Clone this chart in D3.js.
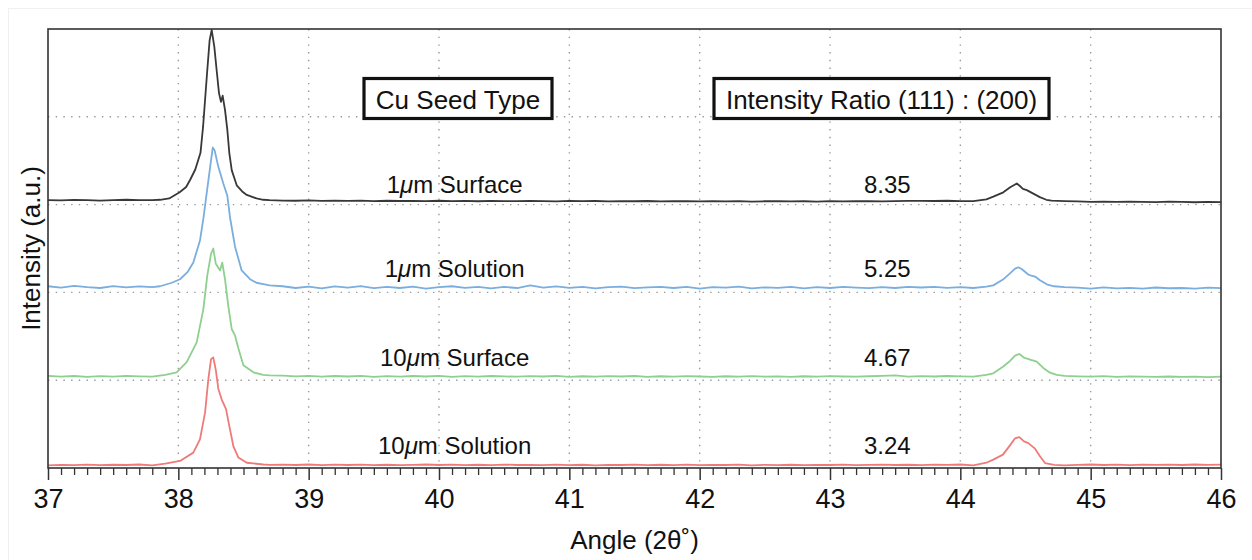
<!DOCTYPE html>
<html>
<head>
<meta charset="utf-8">
<script src="https://cdn.jsdelivr.net/npm/d3@7"></script>
<style>
  body { margin: 0; background: #fff; }
  text { font-family: "Liberation Sans", Arial, Helvetica, sans-serif; fill: #111; }
</style>
</head>
<body>
<div id="chart"></div>
<script>
// DATA
const seriesNames = ["1μm Surface", "1μm Solution", "10μm Surface", "10μm Solution"];
const ratios = ["8.35", "5.25", "4.67", "3.24"];
// vertical stacking of the patterns (axis units)
const offsets = [3.04, 2.05, 1.04, 0.03];
const xTicks = [37, 38, 39, 40, 41, 42, 43, 44, 45, 46];

// background samples every 0.1 deg from 37.0 to 46.0, null where a peak table takes over
const G10 = Array(10).fill(null), G8 = Array(8).fill(null);
const blackBg = [0.012, 0.008, 0.014, 0.01, 0.006, 0.012, 0.015, 0.01, ...G10,
  0.006, 0.004, 0.008, 0.003, 0.006, 0.002, 0.005, 0.0, 0.004, 0.001,
  0.003, -0.001, 0.004, 0.0, 0.002, -0.002, 0.003, 0.0, -0.001, 0.002,
  0.0, -0.003, 0.002, -0.001, 0.001, -0.004, 0.0, -0.002, 0.001, -0.003,
  0.0, -0.002, -0.004, 0.0, -0.003, -0.001, -0.005, -0.002, 0.0, -0.004,
  -0.002, -0.005, -0.001, -0.004, -0.002, 0.0, -0.003, -0.001, 0.002, 0.003,
  0.001, 0.004, 0.0, ...G8,
  -0.004, -0.008, -0.005, -0.01, -0.006, -0.009, -0.012, -0.007, -0.01, -0.013, -0.008, -0.011];
const blueBg = [0.02, 0.005, 0.025, 0.01, 0.0, 0.022, 0.008, 0.018, ...G10,
  0.02, 0.0, 0.015, -0.005, 0.018, 0.004, 0.022, -0.002, 0.012, 0.0,
  0.016, -0.006, 0.01, 0.02, 0.002, 0.014, -0.004, 0.012, 0.0, 0.03,
  0.005, 0.018, 0.002, 0.012, -0.005, 0.01, 0.016, -0.002, 0.008, 0.014,
  0.0, 0.012, -0.006, 0.01, 0.004, 0.016, -0.004, 0.008, 0.002, 0.014,
  -0.003, 0.01, 0.0, 0.012, 0.004, -0.002, 0.01, 0.0, 0.014, 0.006,
  0.012, 0.002, 0.01, ...G8,
  0.004, -0.006, 0.008, -0.004, 0.002, -0.008, 0.006, -0.003, 0.0, -0.007, 0.004, -0.002];
const greenBg = [0.01, 0.0, 0.008, -0.002, 0.006, 0.0, 0.01, 0.004, ...G10,
  0.012, 0.004, 0.01, 0.0, 0.008, 0.002, 0.01, -0.002, 0.006, 0.0,
  0.008, 0.002, 0.01, -0.002, 0.006, 0.0, 0.008, 0.003, 0.0, 0.007,
  0.002, 0.009, -0.001, 0.005, 0.0, 0.007, 0.002, 0.008, -0.002, 0.005,
  0.0, 0.006, 0.002, -0.002, 0.005, 0.0, 0.007, 0.001, 0.004, -0.002,
  0.005, 0.0, 0.006, 0.002, 0.0, 0.005, 0.01, 0.015, 0.0, 0.006,
  0.002, 0.008, 0.003, ...G8,
  0.004, 0.0, 0.006, -0.002, 0.003, 0.0, -0.003, 0.002, -0.002, 0.0, -0.004, 0.0];
const redBg = [0.0, 0.006, 0.002, 0.008, 0.003, 0.007, 0.004, 0.01, ...G10,
  0.008, 0.004, 0.01, 0.002, 0.008, 0.004, 0.009, 0.003, 0.007, 0.002,
  0.006, 0.01, 0.004, 0.008, 0.002, 0.007, 0.003, 0.009, 0.004, 0.006,
  0.002, 0.008, 0.003, 0.007, 0.001, 0.006, 0.004, 0.009, 0.002, 0.007,
  0.003, 0.008, 0.002, 0.006, 0.004, 0.008, 0.001, 0.006, 0.003, 0.007,
  0.002, 0.006, 0.004, 0.008, 0.002, 0.005, 0.009, 0.004, 0.007, 0.003,
  0.008, 0.005, 0.01, ...G8,
  0.006, 0.01, 0.004, 0.008, 0.003, 0.009, 0.005, 0.008, 0.004, 0.01, 0.006, 0.008];

// (111) peak near 38.3 deg: [angle, intensity above baseline]
const blackPeak38 = [[37.8, 0.01], [37.86, 0.015], [37.93, 0.03], [38.01, 0.1], [38.06, 0.16], [38.09, 0.24],
  [38.13, 0.36], [38.17, 0.55], [38.19, 0.85], [38.22, 1.45], [38.24, 1.83], [38.256, 1.95], [38.276, 1.76],
  [38.294, 1.49], [38.312, 1.23], [38.327, 1.13], [38.34, 1.2], [38.358, 1.04], [38.376, 0.81], [38.391, 0.55],
  [38.41, 0.35], [38.448, 0.18], [38.49, 0.11], [38.525, 0.07], [38.6, 0.03], [38.652, 0.015], [38.7, 0.01]];
const bluePeak38 = [[37.8, 0.01], [37.86, 0.02], [37.95, 0.06], [38.013, 0.1], [38.07, 0.18], [38.115, 0.29],
  [38.166, 0.54], [38.192, 0.79], [38.23, 1.22], [38.264, 1.6], [38.278, 1.57], [38.307, 1.38], [38.345, 1.19],
  [38.376, 1.05], [38.397, 0.8], [38.435, 0.47], [38.486, 0.2], [38.55, 0.1], [38.6, 0.06], [38.652, 0.045], [38.7, 0.03]];
const greenPeak38 = [[37.8, 0.0], [37.9, 0.02], [37.987, 0.05], [38.064, 0.165], [38.141, 0.39], [38.192, 0.77],
  [38.222, 1.15], [38.251, 1.4], [38.268, 1.46], [38.287, 1.29], [38.32, 1.21], [38.337, 1.3], [38.358, 1.11],
  [38.383, 0.81], [38.41, 0.54], [38.435, 0.47], [38.461, 0.32], [38.499, 0.13], [38.576, 0.05], [38.65, 0.02], [38.7, 0.015]];
const redPeak38 = [[37.8, 0.0], [37.9, 0.02], [38.013, 0.05], [38.115, 0.145], [38.166, 0.296], [38.205, 0.6],
  [38.23, 0.98], [38.251, 1.21], [38.268, 1.23], [38.287, 1.09], [38.307, 0.87], [38.333, 0.75], [38.366, 0.64],
  [38.391, 0.45], [38.422, 0.22], [38.46, 0.09], [38.525, 0.03], [38.652, 0.01], [38.7, 0.005]];

// (200) peak near 44.45 deg
const blackPeak44 = [[44.1, 0.0], [44.2, 0.02], [44.253, 0.05], [44.33, 0.1], [44.38, 0.155], [44.41, 0.18],
  [44.433, 0.2], [44.455, 0.175], [44.48, 0.14], [44.51, 0.125], [44.56, 0.085], [44.61, 0.045], [44.66, 0.015],
  [44.7, 0.005], [44.8, 0.0]];
const bluePeak44 = [[44.1, 0.0], [44.2, 0.015], [44.253, 0.03], [44.327, 0.096], [44.381, 0.167], [44.42, 0.22],
  [44.445, 0.236], [44.473, 0.213], [44.519, 0.156], [44.545, 0.14], [44.573, 0.13], [44.611, 0.088], [44.663, 0.042],
  [44.72, 0.02], [44.8, 0.01]];
const greenPeak44 = [[44.1, 0.0], [44.2, 0.02], [44.253, 0.038], [44.327, 0.114], [44.381, 0.179], [44.42, 0.239],
  [44.453, 0.259], [44.489, 0.216], [44.535, 0.194], [44.586, 0.171], [44.634, 0.103], [44.688, 0.046], [44.74, 0.02],
  [44.8, 0.01]];
const redPeak44 = [[44.1, 0.0], [44.2, 0.03], [44.253, 0.065], [44.327, 0.122], [44.381, 0.228], [44.42, 0.308],
  [44.453, 0.322], [44.489, 0.273], [44.522, 0.254], [44.573, 0.19], [44.611, 0.103], [44.65, 0.026], [44.72, 0.006],
  [44.8, 0.0]];

const backgrounds = [blackBg, blueBg, greenBg, redBg];
const peaks38 = [blackPeak38, bluePeak38, greenPeak38, redPeak38];
const peaks44 = [blackPeak44, bluePeak44, greenPeak44, redPeak44];
const colors = ["#383838", "#7aaedf", "#8ed08e", "#ef7a7a"];

// sampling grid of the background arrays
const angleGrid = d3.range(0, 91).map(i => 37 + i / 10);

function buildPoints(bg, p38, p44) {
	const pts = [];
	bg.forEach((v, i) => { if (v !== null) pts.push([angleGrid[i], v]); });
	return pts.concat(p38, p44).sort((a, b) => a[0] - b[0]);
}

// CHART
const width = 1252, height = 560;
const margin = {left: 48, right: 31, top: 29, bottom: 92};

const svg = d3.select("#chart")
  .append("svg")
  .attr("width", width)
  .attr("height", height);

// faint outer frame of the figure
svg.append("rect")
  .attr("x", 8.5).attr("y", 8.5)
  .attr("width", width).attr("height", height)
  .attr("fill", "none").attr("stroke", "#f0f0f0");

const xScale = d3.scaleLinear()
  .domain([37, 46])
  .range([margin.left, width - margin.right]);

const yScale = d3.scaleLinear()
  .domain([0, 5])
  .range([height - margin.bottom, margin.top]);

const x0 = xScale.range()[0], x1 = xScale.range()[1];
const y0 = yScale.range()[0], y1 = yScale.range()[1];

// dotted grid
const grid = svg.append("g")
  .attr("stroke", "#999")
  .attr("stroke-width", 1.4)
  .attr("stroke-dasharray", "1.4,6.3");

grid.selectAll(".vgrid")
  .data(xTicks.slice(1, -1))
  .enter().append("line")
  .attr("x1", d => xScale(d)).attr("x2", d => xScale(d))
  .attr("y1", y1).attr("y2", y0);

grid.selectAll(".hgrid")
  .data([1, 2, 3, 4])
  .enter().append("line")
  .attr("x1", x0).attr("x2", x1)
  .attr("y1", d => yScale(d)).attr("y2", d => yScale(d));

// patterns
const line = d3.line()
  .x(d => xScale(d[0]))
  .y(d => d[1]);

seriesNames.forEach((name, i) => {
	const pts = buildPoints(backgrounds[i], peaks38[i], peaks44[i])
	  .map(p => [p[0], yScale(p[1] + offsets[i])]);

	svg.append("path")
	  .attr("d", line(pts))
	  .attr("fill", "none")
	  .attr("stroke", colors[i])
	  .attr("stroke-width", 1.8)
	  .attr("stroke-linejoin", "round");
});

// series labels
const labels = svg.append("g").style("font-size", "24px");

seriesNames.forEach((name, i) => {
	const ly = yScale(offsets[i]) - (i === 0 ? 8 : 11);
	const parts = name.split("μ");
	const t = labels.append("text")
	  .attr("x", xScale(40.12))
	  .attr("y", ly)
	  .attr("text-anchor", "middle");
	t.append("tspan").text(parts[0]);
	t.append("tspan").style("font-style", "italic").text("μ");
	t.append("tspan").text(parts[1]);

	labels.append("text")
	  .attr("x", xScale(43.44))
	  .attr("y", ly)
	  .attr("text-anchor", "middle")
	  .text(ratios[i]);
});

// header boxes
function headerBox(cx, w, label) {
	svg.append("rect")
	  .attr("x", cx - w / 2).attr("y", 78.5)
	  .attr("width", w).attr("height", 40)
	  .attr("fill", "#fff")
	  .attr("stroke", "#111")
	  .attr("stroke-width", 3.2);
	svg.append("text")
	  .attr("x", cx).attr("y", 108.5)
	  .attr("text-anchor", "middle")
	  .style("font-size", "26px")
	  .text(label);
}
headerBox(458, 188, "Cu Seed Type");
headerBox(881.5, 335, "Intensity Ratio (111) : (200)");

// x axis: major and minor ticks
const xAxis = d3.axisBottom(xScale)
  .tickValues(xTicks)
  .tickSize(12)
  .tickFormat(d3.format("d"));

const gx = svg.append("g")
  .attr("transform", `translate(0, ${y0})`)
  .call(xAxis);

gx.select(".domain").remove();
gx.selectAll(".tick line").attr("stroke", "#333").attr("stroke-width", 1.5);
gx.selectAll(".tick text")
  .attr("dy", null)
  .attr("y", 40)
  .attr("fill", "#111")
  .style("font-size", "27px")
  .style("font-family", "'Liberation Sans', Arial, Helvetica, sans-serif");

const minorTicks = d3.range(370, 461).filter(v => v % 10 !== 0).map(v => v / 10);
const gMinor = svg.append("g")
  .attr("transform", `translate(0, ${y0})`)
  .call(d3.axisBottom(xScale).tickValues(minorTicks).tickSize(7).tickFormat(""));
gMinor.select(".domain").remove();
gMinor.selectAll(".tick line").attr("stroke", "#333").attr("stroke-width", 1.3);

// plot frame
svg.append("rect")
  .attr("x", x0).attr("y", y1)
  .attr("width", x1 - x0).attr("height", y0 - y1)
  .attr("fill", "none")
  .attr("stroke", "#333")
  .attr("stroke-width", 1.6);

// axis titles
svg.append("text")
  .attr("x", (x0 + x1) / 2)
  .attr("y", 549)
  .attr("text-anchor", "middle")
  .style("font-size", "26px")
  .text("Angle (2θ˚)");

svg.append("text")
  .attr("transform", `translate(40, ${(y0 + y1) / 2}) rotate(-90)`)
  .attr("text-anchor", "middle")
  .style("font-size", "26px")
  .text("Intensity (a.u.)");
</script>
</body>
</html>
